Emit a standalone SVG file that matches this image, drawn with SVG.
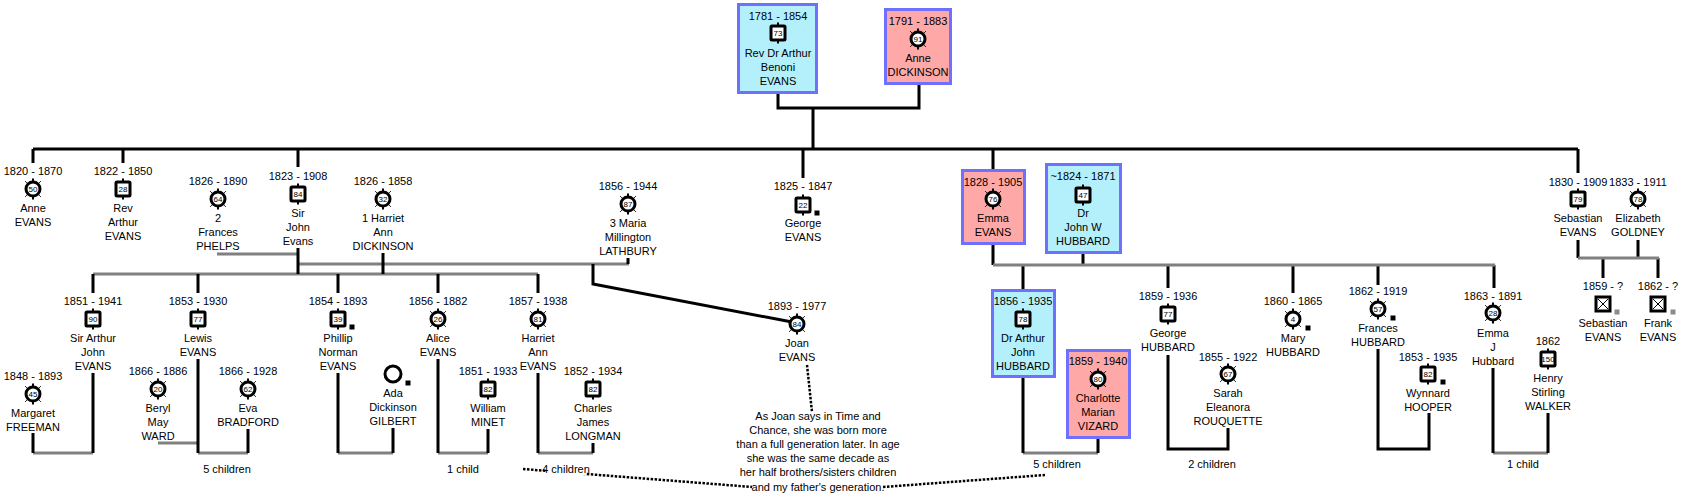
<svg xmlns="http://www.w3.org/2000/svg" xmlns:xlink="http://www.w3.org/1999/xlink" width="1692" height="499" viewBox="0 0 1692 499">
<style>
text{font-family:"Liberation Sans",Arial,sans-serif;font-size:11px;fill:#000;text-anchor:middle}
text.n{font-size:8px}
.blk{stroke:#000;stroke-width:3;fill:none}
.gry{stroke:#808080;stroke-width:3;fill:none}
.dot{stroke:#000;stroke-width:2.5;stroke-dasharray:2.5 1.5;fill:none}
.bm{fill:#b4f0fc;stroke:#7070ff;stroke-width:3}
.bf{fill:#ffa8a8;stroke:#7070ff;stroke-width:3}
</style>
<defs>
<g id="sq"><line x1="0" y1="-10.5" x2="0" y2="10.5" stroke="#000" stroke-width="2"/><rect x="-7" y="-7" width="14" height="14" rx="1" fill="#fff" stroke="#000" stroke-width="3"/></g>
<g id="ci"><line x1="0" y1="-10.5" x2="0" y2="10.5" stroke="#000" stroke-width="2"/><path d="M6 -6L8 -8M-6 -6L-8 -8M6 6L8 8M-6 6L-8 8" stroke="#000" stroke-width="0.8"/><circle r="7" fill="#fff" stroke="#000" stroke-width="3"/></g>
<g id="xq"><rect x="-7" y="-7" width="14" height="14" fill="#fff" stroke="#000" stroke-width="3"/><path d="M-5 -5L5 5M5 -5L-5 5" stroke="#000" stroke-width="1"/></g>
<rect id="mk" x="-2.5" y="-2.5" width="5" height="5" fill="#000"/>
<rect id="mg" x="-2.5" y="-2.5" width="5" height="5" fill="#8a8a8a"/>
</defs>

<g id="connectors">
<path class="blk" d="M778 94V108H919V85M813 108V149M33 149H1578M33 149V163M123 149V163M298 149V167M803 149V178M993 149V169M1578 149V173"/>
<path class="gry" d="M217 254H298M298 264H629M93 274H538"/>
<path class="blk" d="M298 248V274M383 253V274M628 258V264M93 274V293M198 274V293M338 274V293M438 274V293M538 274V293"/>
<path class="blk" d="M593 264V284L792 322"/>
<path class="gry" d="M33 453H93M198 453H248M158 443H198M338 453H393M438 453H488M538 453H593"/>
<path class="blk" d="M93 373V453M33 433V453M198 359V453M248 429V453M338 373V453M393 428V453M438 359V453M488 429V453M538 373V453M593 443V453"/>
<path class="blk" d="M993 245V265M1083 254V265M1023 265V289M1168 265V288M1293 265V293M1378 265V285M1494 265V288"/>
<path class="gry" d="M993 265H1495M1023 453H1098M1493 453H1548"/>
<path class="blk" d="M1023 378V453M1098 439V453M1168 355V449H1228V428M1378 349V449H1429V413M1493 368V453M1548 413V453"/>
<path class="blk" d="M1578 240V258M1638 240V258M1603 258V278M1658 258V278"/>
<path class="gry" d="M1578 258H1659"/>
<path class="dot" d="M807 365L812 412M523 469L752 487M883 487L1045 475"/>
</g>

<g id="n-arthur-sr"><rect class="bm" x="738.5" y="4.5" width="78" height="88"/><text x="778" y="20">1781 - 1854</text><use xlink:href="#sq" x="778" y="33"/><text class="n" x="778" y="36">73</text><text x="778" y="57">Rev Dr Arthur</text><text x="778" y="71">Benoni</text><text x="778" y="85">EVANS</text></g>
<g id="n-anne-dickinson"><rect class="bf" x="885.5" y="9.5" width="65" height="74"/><text x="918" y="25">1791 - 1883</text><use xlink:href="#ci" x="918" y="39"/><text class="n" x="918" y="42">91</text><text x="918" y="62">Anne</text><text x="918" y="76">DICKINSON</text></g>

<g id="n-anne-evans"><text x="33" y="175">1820 - 1870</text><use xlink:href="#ci" x="33" y="189"/><text class="n" x="33" y="192">50</text><text x="33" y="212">Anne</text><text x="33" y="226">EVANS</text></g>
<g id="n-rev-arthur"><text x="123" y="175">1822 - 1850</text><use xlink:href="#sq" x="123" y="189"/><text class="n" x="123" y="192">28</text><text x="123" y="212">Rev</text><text x="123" y="226">Arthur</text><text x="123" y="240">EVANS</text></g>
<g id="n-frances-phelps"><text x="218" y="185">1826 - 1890</text><use xlink:href="#ci" x="218" y="199"/><text class="n" x="218" y="202">64</text><text x="218" y="222">2</text><text x="218" y="236">Frances</text><text x="218" y="250">PHELPS</text></g>
<g id="n-sir-john"><text x="298" y="180">1823 - 1908</text><use xlink:href="#sq" x="298" y="194"/><text class="n" x="298" y="197">84</text><text x="298" y="217">Sir</text><text x="298" y="231">John</text><text x="298" y="245">Evans</text></g>
<g id="n-harriet-dickinson"><text x="383" y="185">1826 - 1858</text><use xlink:href="#ci" x="383" y="199"/><text class="n" x="383" y="202">32</text><text x="383" y="222">1 Harriet</text><text x="383" y="236">Ann</text><text x="383" y="250">DICKINSON</text></g>
<g id="n-maria-lathbury"><text x="628" y="190">1856 - 1944</text><use xlink:href="#ci" x="628" y="204"/><text class="n" x="628" y="207">87</text><text x="628" y="227">3 Maria</text><text x="628" y="241">Millington</text><text x="628" y="255">LATHBURY</text></g>
<g id="n-george-evans"><text x="803" y="190">1825 - 1847</text><use xlink:href="#sq" x="803" y="205"/><text class="n" x="803" y="208">22</text><use xlink:href="#mk" x="817" y="213"/><text x="803" y="227">George</text><text x="803" y="241">EVANS</text></g>
<g id="n-emma-evans"><rect class="bf" x="962.5" y="170.5" width="62" height="73"/><text x="993" y="186">1828 - 1905</text><use xlink:href="#ci" x="993" y="199"/><text class="n" x="993" y="202">76</text><text x="993" y="222">Emma</text><text x="993" y="236">EVANS</text></g>
<g id="n-john-w-hubbard"><rect class="bm" x="1046.5" y="164.5" width="74" height="88"/><text x="1083" y="180">~1824 - 1871</text><use xlink:href="#sq" x="1083" y="195"/><text class="n" x="1083" y="198">47</text><text x="1083" y="217">Dr</text><text x="1083" y="231">John W</text><text x="1083" y="245">HUBBARD</text></g>
<g id="n-sebastian-evans"><text x="1578" y="186">1830 - 1909</text><use xlink:href="#sq" x="1578" y="199"/><text class="n" x="1578" y="202">79</text><text x="1578" y="222">Sebastian</text><text x="1578" y="236">EVANS</text></g>
<g id="n-elizabeth-goldney"><text x="1638" y="186">1833 - 1911</text><use xlink:href="#ci" x="1638" y="199"/><text class="n" x="1638" y="202">78</text><text x="1638" y="222">Elizabeth</text><text x="1638" y="236">GOLDNEY</text></g>

<g id="n-sir-arthur-john"><text x="93" y="305">1851 - 1941</text><use xlink:href="#sq" x="93" y="319"/><text class="n" x="93" y="322">90</text><text x="93" y="342">Sir Arthur</text><text x="93" y="356">John</text><text x="93" y="370">EVANS</text></g>
<g id="n-margaret-freeman"><text x="33" y="380">1848 - 1893</text><use xlink:href="#ci" x="33" y="394"/><text class="n" x="33" y="397">45</text><text x="33" y="417">Margaret</text><text x="33" y="431">FREEMAN</text></g>
<g id="n-lewis-evans"><text x="198" y="305">1853 - 1930</text><use xlink:href="#sq" x="198" y="319"/><text class="n" x="198" y="322">77</text><text x="198" y="342">Lewis</text><text x="198" y="356">EVANS</text></g>
<g id="n-beryl-ward"><text x="158" y="375">1866 - 1886</text><use xlink:href="#ci" x="158" y="389"/><text class="n" x="158" y="392">20</text><text x="158" y="412">Beryl</text><text x="158" y="426">May</text><text x="158" y="440">WARD</text></g>
<g id="n-eva-bradford"><text x="248" y="375">1866 - 1928</text><use xlink:href="#ci" x="248" y="389"/><text class="n" x="248" y="392">62</text><text x="248" y="412">Eva</text><text x="248" y="426">BRADFORD</text></g>
<g id="n-phillip-evans"><text x="338" y="305">1854 - 1893</text><use xlink:href="#sq" x="338" y="319"/><text class="n" x="338" y="322">39</text><use xlink:href="#mk" x="352" y="327"/><text x="338" y="342">Phillip</text><text x="338" y="356">Norman</text><text x="338" y="370">EVANS</text></g>
<g id="n-ada-gilbert"><circle cx="393" cy="374" r="8" fill="#fff" stroke="#000" stroke-width="3"/><use xlink:href="#mk" x="408" y="383"/><text x="393" y="397">Ada</text><text x="393" y="411">Dickinson</text><text x="393" y="425">GILBERT</text></g>
<g id="n-alice-evans"><text x="438" y="305">1856 - 1882</text><use xlink:href="#ci" x="438" y="319"/><text class="n" x="438" y="322">26</text><text x="438" y="342">Alice</text><text x="438" y="356">EVANS</text></g>
<g id="n-william-minet"><text x="488" y="375">1851 - 1933</text><use xlink:href="#sq" x="488" y="389"/><text class="n" x="488" y="392">82</text><text x="488" y="412">William</text><text x="488" y="426">MINET</text></g>
<g id="n-harriet-evans"><text x="538" y="305">1857 - 1938</text><use xlink:href="#ci" x="538" y="319"/><text class="n" x="538" y="322">81</text><text x="538" y="342">Harriet</text><text x="538" y="356">Ann</text><text x="538" y="370">EVANS</text></g>
<g id="n-charles-longman"><text x="593" y="375">1852 - 1934</text><use xlink:href="#sq" x="593" y="389"/><text class="n" x="593" y="392">82</text><text x="593" y="412">Charles</text><text x="593" y="426">James</text><text x="593" y="440">LONGMAN</text></g>
<g id="n-joan-evans"><text x="797" y="310">1893 - 1977</text><use xlink:href="#ci" x="797" y="324"/><text class="n" x="797" y="327">84</text><text x="797" y="347">Joan</text><text x="797" y="361">EVANS</text></g>

<g id="n-arthur-john-hubbard"><rect class="bm" x="992.5" y="290.5" width="62" height="86"/><text x="1023" y="305">1856 - 1935</text><use xlink:href="#sq" x="1023" y="319"/><text class="n" x="1023" y="322">78</text><text x="1023" y="342">Dr Arthur</text><text x="1023" y="356">John</text><text x="1023" y="370">HUBBARD</text></g>
<g id="n-charlotte-vizard"><rect class="bf" x="1067.5" y="350.5" width="62" height="87"/><text x="1098" y="365">1859 - 1940</text><use xlink:href="#ci" x="1098" y="379"/><text class="n" x="1098" y="382">80</text><text x="1098" y="402">Charlotte</text><text x="1098" y="416">Marian</text><text x="1098" y="430">VIZARD</text></g>
<g id="n-george-hubbard"><text x="1168" y="300">1859 - 1936</text><use xlink:href="#sq" x="1168" y="314"/><text class="n" x="1168" y="317">77</text><text x="1168" y="337">George</text><text x="1168" y="351">HUBBARD</text></g>
<g id="n-sarah-rouquette"><text x="1228" y="361">1855 - 1922</text><use xlink:href="#ci" x="1228" y="374"/><text class="n" x="1228" y="377">67</text><text x="1228" y="397">Sarah</text><text x="1228" y="411">Eleanora</text><text x="1228" y="425">ROUQUETTE</text></g>
<g id="n-mary-hubbard"><text x="1293" y="305">1860 - 1865</text><use xlink:href="#ci" x="1293" y="319"/><text class="n" x="1293" y="322">4</text><use xlink:href="#mk" x="1308" y="328"/><text x="1293" y="342">Mary</text><text x="1293" y="356">HUBBARD</text></g>
<g id="n-frances-hubbard"><text x="1378" y="295">1862 - 1919</text><use xlink:href="#ci" x="1378" y="309"/><text class="n" x="1378" y="312">57</text><use xlink:href="#mk" x="1393" y="318"/><text x="1378" y="332">Frances</text><text x="1378" y="346">HUBBARD</text></g>
<g id="n-wynnard-hooper"><text x="1428" y="361">1853 - 1935</text><use xlink:href="#sq" x="1428" y="374"/><text class="n" x="1428" y="377">82</text><use xlink:href="#mk" x="1443" y="382"/><text x="1428" y="397">Wynnard</text><text x="1428" y="411">HOOPER</text></g>
<g id="n-emma-j-hubbard"><text x="1493" y="300">1863 - 1891</text><use xlink:href="#ci" x="1493" y="313"/><text class="n" x="1493" y="316">28</text><text x="1493" y="337">Emma</text><text x="1493" y="351">J</text><text x="1493" y="365">Hubbard</text></g>
<g id="n-henry-walker"><text x="1548" y="345">1862</text><use xlink:href="#sq" x="1548" y="359"/><text class="n" x="1548" y="362">150</text><text x="1548" y="382">Henry</text><text x="1548" y="396">Stirling</text><text x="1548" y="410">WALKER</text></g>
<g id="n-sebastian-jr"><text x="1603" y="290">1859 - ?</text><use xlink:href="#xq" x="1603" y="304"/><use xlink:href="#mg" x="1617" y="312"/><text x="1603" y="327">Sebastian</text><text x="1603" y="341">EVANS</text></g>
<g id="n-frank-evans"><text x="1658" y="290">1862 - ?</text><use xlink:href="#xq" x="1658" y="304"/><use xlink:href="#mg" x="1673" y="312"/><text x="1658" y="327">Frank</text><text x="1658" y="341">EVANS</text></g>

<g id="labels">
<text x="227" y="473">5 children</text>
<text x="463" y="473">1 child</text>
<rect x="546" y="462" width="40" height="13" fill="#fff"/>
<text x="566" y="473">4 children</text>
<text x="1057" y="468">5 children</text>
<text x="1212" y="468">2 children</text>
<text x="1523" y="468">1 child</text>
</g>
<g id="n-note">
<text x="818" y="420">As Joan says in Time and</text>
<text x="818" y="434">Chance, she was born more</text>
<text x="818" y="448">than a full generation later. In age</text>
<text x="818" y="462">she was the same decade as</text>
<text x="818" y="476">her half brothers/sisters children</text>
<text x="818" y="491">and my father's generation.</text>
</g>
</svg>
